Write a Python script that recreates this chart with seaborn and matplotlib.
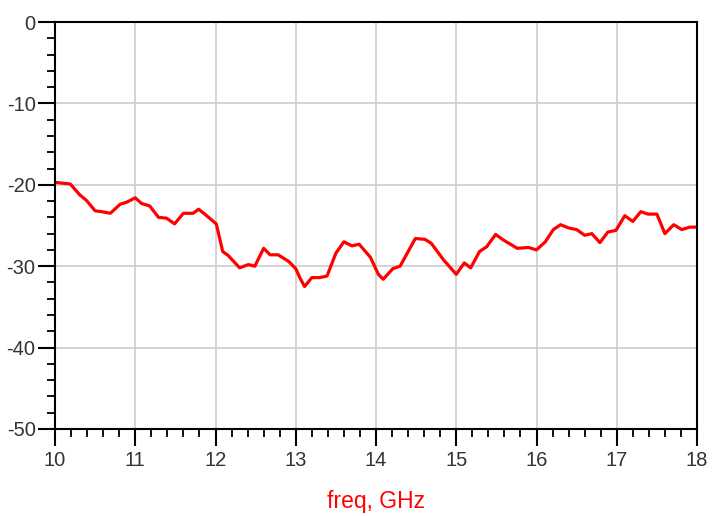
import numpy as np
import pandas as pd
import matplotlib
matplotlib.use("Agg")
import matplotlib.pyplot as plt
from matplotlib.ticker import MultipleLocator
import seaborn as sns

# --- DATI ---
freq = [10.0, 10.19, 10.31, 10.39, 10.50, 10.58, 10.69, 10.81, 10.89, 11.0,
        11.08, 11.18, 11.29, 11.39, 11.49, 11.60, 11.72, 11.79, 11.89, 11.95,
        12.01, 12.09, 12.16, 12.30, 12.41, 12.49, 12.60, 12.68, 12.78, 12.91,
        13.0, 13.05, 13.11, 13.20, 13.30, 13.39, 13.50, 13.60, 13.70, 13.79,
        13.93, 14.03, 14.09, 14.21, 14.30, 14.49, 14.61, 14.69, 14.84, 15.0,
        15.10, 15.18, 15.29, 15.38, 15.49, 15.59, 15.76, 15.90, 16.0, 16.11,
        16.21, 16.30, 16.40, 16.50, 16.60, 16.69, 16.79, 16.89, 16.99, 17.10,
        17.20, 17.30, 17.39, 17.50, 17.60, 17.71, 17.81, 17.91, 18.0]
s_db = [-19.7, -19.9, -21.25, -21.9, -23.2, -23.3, -23.5, -22.4, -22.15, -21.6,
        -22.3, -22.6, -24.0, -24.1, -24.8, -23.5, -23.5, -23.0, -23.8, -24.3,
        -24.8, -28.2, -28.7, -30.2, -29.8, -30.0, -27.8, -28.6, -28.6, -29.4,
        -30.3, -31.4, -32.5, -31.4, -31.4, -31.2, -28.4, -27.0, -27.5, -27.3,
        -28.9, -31.0, -31.6, -30.3, -30.0, -26.6, -26.7, -27.2, -29.2, -31.0,
        -29.6, -30.2, -28.2, -27.6, -26.1, -26.8, -27.8, -27.7, -28.0, -27.0,
        -25.5, -24.9, -25.3, -25.5, -26.2, -26.0, -27.1, -25.8, -25.6, -23.8,
        -24.5, -23.3, -23.6, -23.6, -26.0, -24.9, -25.5, -25.2, -25.2]

x_ticks = [10, 11, 12, 13, 14, 15, 16, 17, 18]
y_ticks = [0, -10, -20, -30, -40, -50]

df = pd.DataFrame({"freq": freq, "S": s_db})

sns.set_style("white")
plt.rcParams["font.family"] = ["Liberation Sans", "DejaVu Sans"]
plt.rcParams["axes.unicode_minus"] = False

fig = plt.figure(figsize=(7.21, 5.16), dpi=100)
ax = fig.add_axes([55 / 721, 1 - 429 / 516, 642 / 721, 407 / 516])

sns.lineplot(data=df, x="freq", y="S", color="#ff0000", linewidth=2.3, ax=ax, sort=False)

ax.set_xlim(10, 18)
ax.set_ylim(-50, 0)
ax.set_xticks(x_ticks)
ax.set_yticks(y_ticks)
ax.xaxis.set_minor_locator(MultipleLocator(0.2))
ax.yaxis.set_minor_locator(MultipleLocator(2))

ax.grid(True, which="major", color="#cccccc", linewidth=1.2)
ax.set_axisbelow(True)

for sp in ax.spines.values():
    sp.set_color("black")
    sp.set_linewidth(1.5)

ax.tick_params(axis="both", which="both", bottom=True, left=True, top=False, right=False)
ax.tick_params(axis="both", which="major", direction="out", length=12, width=1.5,
               color="black", labelsize=14.5, labelcolor="#333333")
ax.tick_params(axis="x", which="major", pad=4)
ax.tick_params(axis="y", which="major", pad=2)
ax.tick_params(axis="both", which="minor", direction="out", length=6, width=1.3,
               color="black")

ax.set_xlabel("freq, GHz", color="#ff0000", fontsize=16.5, labelpad=14)
ax.set_ylabel("")

plt.savefig("out.png", dpi=100)
